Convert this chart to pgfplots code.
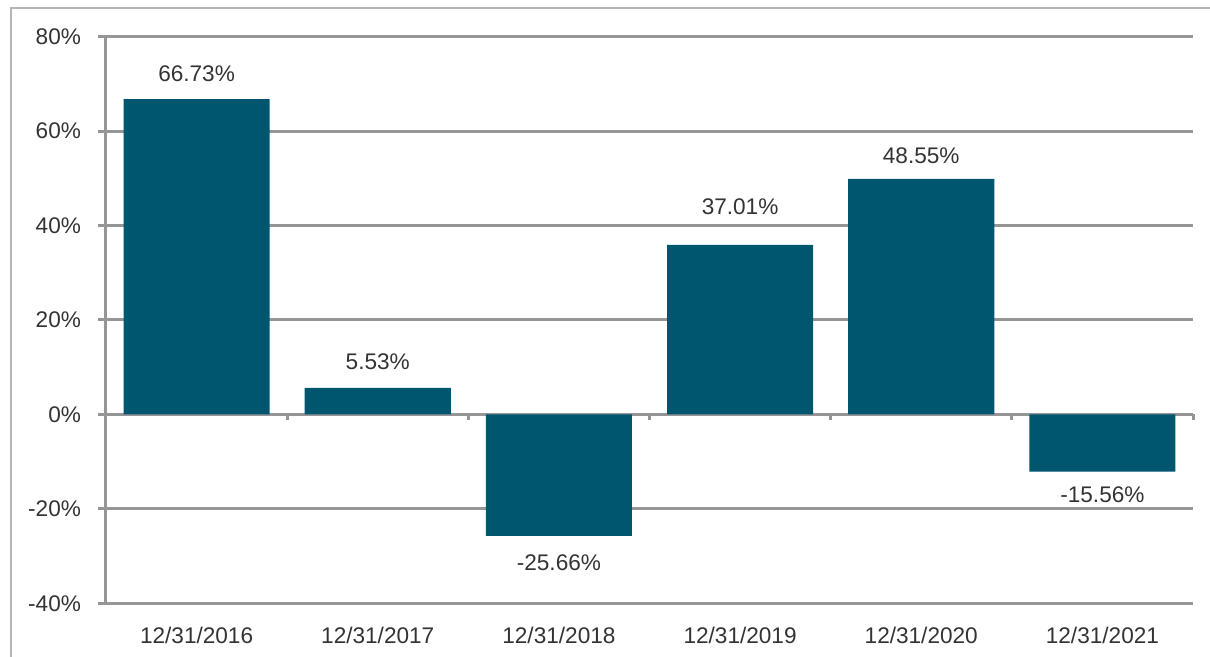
\documentclass[border=0pt]{standalone}
\usepackage{pgfplots}
\pgfplotsset{compat=1.18}
\usepackage{fontspec}
\setmainfont{Liberation Sans}
\definecolor{barc}{HTML}{00556F}
\definecolor{gridc}{HTML}{969696}
\definecolor{framec}{HTML}{B4B4B4}
\definecolor{txt}{HTML}{333333}
\begin{document}
\begin{tikzpicture}
\useasboundingbox (0,0) rectangle (605pt,328.5pt);
\draw[framec, line width=1pt] (5.25pt,0) -- (5.25pt,324.4pt) -- (605pt,324.4pt);
\begin{axis}[
  at={(53pt,26.85pt)}, anchor=south west,
  scale only axis, width=543.5pt, height=283.3pt,
  xmin=-0.5, xmax=5.5, ymin=-40, ymax=80,
  axis y line*=left, axis x line*=bottom,
  x axis line style={draw=none},
  y axis line style={gridc, line width=1.5pt},
  ytick={-40,-20,...,80},
  /pgf/number format/assume math mode=true,
  yticklabel={\pgfmathprintnumber{\tick}\%},
  ymajorgrids,
  major grid style={gridc, line width=1.5pt},
  tick align=outside,
  major tick length=4pt,
  ytick style={gridc, line width=1.5pt},
  xtick={0,...,5},
  xticklabels={12/31/2016,12/31/2017,12/31/2018,12/31/2019,12/31/2020,12/31/2021},
  xtick style={draw=none},
  ticklabel style={font=\fontsize{11.3}{13}\selectfont, text=txt},
  yticklabel style={xshift=-5pt},
  xticklabel style={yshift=-4.5pt},
  clip=false,
]
\addplot[ybar, bar width=0.806, fill=barc, draw=none]
  coordinates {(0,66.8) (1,5.6) (2,-25.7) (3,35.9) (4,49.9) (5,-12.1)};
\addplot[draw=none, mark=none, nodes near coords, point meta=explicit symbolic,
  nodes near coords align={center},
  nodes near coords style={anchor=center, font=\fontsize{11.3}{13}\selectfont, text=txt}]
  coordinates {(0,72.2)[66.73\%] (1,11.2)[5.53\%] (2,-31.5)[-25.66\%]
               (3,43.9)[37.01\%] (4,54.8)[48.55\%] (5,-17.0)[-15.56\%]};
\pgfplotsinvokeforeach{0.5,1.5,2.5,3.5,4.5,5.5}{
  \draw[gridc, line width=1.5pt] (axis cs:#1,0) -- ([yshift=-3pt]axis cs:#1,0);
}
\end{axis}
\end{tikzpicture}
\end{document}
